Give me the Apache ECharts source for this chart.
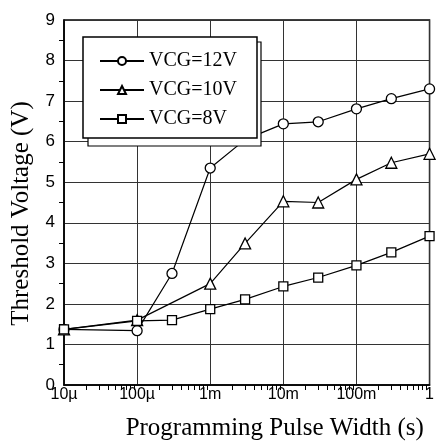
<!DOCTYPE html>
<html lang="en">
<head>
 <meta charset="UTF-8">
 <title>Threshold Voltage</title>
 <style>html,body{margin:0;padding:0;background:#fff;}</style>
</head>
<body>
 <div id="main" style="width:437px;height:446px;"></div>
 <script src="https://cdn.jsdelivr.net/npm/echarts@6/dist/echarts.min.js"></script>
 <script type="text/javascript">
// pulse widths in seconds
var pulse = [1e-5, 1e-4, 3e-4, 1e-3, 3e-3, 1e-2, 3e-2, 1e-1, 3e-1, 1];
var vcg12 = [1.37, 1.34, 2.75, 5.35, 6.05, 6.44, 6.49, 6.81, 7.06, 7.3];
var vcg10 = [1.37, 1.6, null, 2.5, 3.49, 4.53, 4.5, 5.07, 5.48, 5.7];
var vcg8 = [1.37, 1.58, 1.6, 1.87, 2.11, 2.43, 2.65, 2.95, 3.27, 3.67];
var xTickLabels = { '-5': '10\u00b5', '-4': '100\u00b5', '-3': '1m', '-2': '10m', '-1': '100m', '0': '1' };

function pairs(ys) {
    var out = [];
    for (var i = 0; i < pulse.length; i++) {
        if (ys[i] != null) out.push([pulse[i], ys[i]]);
    }
    return out;
}

var myChart = echarts.init(document.getElementById('main'));

var serif = '"Liberation Serif", "Times New Roman", serif';
var sans = '"Liberation Sans", Arial, sans-serif';

function lineSeries(name, symbol, size, ys) {
    return {
        name: name,
        type: 'line',
        data: pairs(ys),
        symbol: symbol,
        symbolSize: size,
        showAllSymbol: true,
        lineStyle: { color: '#000', width: 1.2 },
        itemStyle: { color: '#fff', borderColor: '#000', borderWidth: 1.3 },
        emphasis: { disabled: true }
    };
}

myChart.setOption({
    animation: false,
    backgroundColor: '#fff',
    grid: {
        left: 64, right: -1, top: 20, bottom: 60,
        show: true, borderColor: '#000', borderWidth: 1.5
    },
    // offset outline behind the legend box
    graphic: [{
        type: 'rect',
        z: 4,
        shape: { x: 88, y: 42, width: 173, height: 104 },
        style: { fill: '#fff', stroke: '#000', lineWidth: 1.2 }
    }],
    legend: {
        orient: 'vertical',
        left: 83, top: 37,
        z: 5,
        padding: [13, 18, 8, 16],
        itemGap: 7,
        itemWidth: 44,
        itemHeight: 10,
        backgroundColor: '#fff',
        borderColor: '#000',
        borderWidth: 1.5,
        borderRadius: 0,
        textStyle: { fontFamily: serif, fontSize: 20, color: '#000', width: 90, lineHeight: 22 },
        data: ['VCG=12V', 'VCG=10V', 'VCG=8V']
    },
    xAxis: {
        type: 'log',
        logBase: 10,
        min: 1e-5,
        max: 1,
        name: 'Programming Pulse Width (s)',
        nameLocation: 'middle',
        nameGap: 31,
        nameTextStyle: { fontFamily: serif, fontSize: 25, color: '#000', padding: [0, 0, 0, 56] },
        axisLine: { lineStyle: { color: '#000', width: 1.5 } },
        axisTick: { show: false },
        minorTick: { show: true, splitNumber: 9, length: 5, lineStyle: { color: '#000', width: 1 } },
        axisLabel: {
            fontFamily: sans, fontSize: 16, color: '#000', margin: 2,
            formatter: function (v) { return xTickLabels[String(Math.round(Math.log10(v)))]; }
        },
        splitLine: { show: true, lineStyle: { color: '#333', width: 1 } }
    },
    yAxis: {
        type: 'value',
        min: 0,
        max: 9,
        interval: 1,
        name: 'Threshold Voltage (V)',
        nameLocation: 'middle',
        nameGap: 30,
        nameTextStyle: { fontFamily: serif, fontSize: 25, color: '#000', padding: [0, 22, 0, 0] },
        axisLine: { show: true, lineStyle: { color: '#000', width: 1.5 } },
        axisTick: { show: false },
        minorTick: { show: true, splitNumber: 2, length: 5, lineStyle: { color: '#000', width: 1 } },
        axisLabel: { fontFamily: sans, fontSize: 17, color: '#000', margin: 9 },
        splitLine: { show: true, lineStyle: { color: '#333', width: 1 } }
    },
    series: [
        lineSeries('VCG=12V', 'circle', 10, vcg12),
        lineSeries('VCG=10V', 'triangle', 11, vcg10),
        lineSeries('VCG=8V', 'rect', 9, vcg8)
    ]
});
 </script>
</body>
</html>
